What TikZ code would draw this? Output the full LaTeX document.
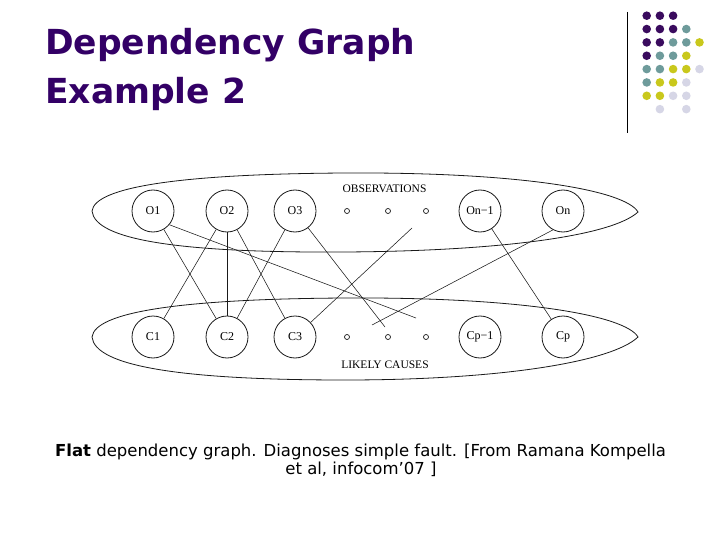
\documentclass[tikz,border=0pt]{standalone}
\usepackage{fontspec}
\setmainfont{Liberation Serif}
\newfontfamily\tahomalike{DejaVu Sans}
\definecolor{ttl}{HTML}{330066}
\definecolor{dpur}{HTML}{3A0B5E}
\definecolor{dteal}{HTML}{6E9B9B}
\definecolor{dyel}{HTML}{C9C81C}
\definecolor{dlav}{HTML}{D6D6E6}
\definecolor{ink}{HTML}{1A1A1A}
\tikzset{
  obs/.style={circle, draw=ink, line width=0.8pt, minimum size=42pt, inner sep=0pt, font=\fontsize{12}{14}\selectfont},
  tinydot/.style={circle, draw=ink, line width=0.7pt, minimum size=5pt, inner sep=0pt},
  edge/.style={draw=ink, line width=0.55pt},
  lens/.style={draw=ink, line width=0.8pt},
  grouplabel/.style={font=\fontsize{11.5}{13}\selectfont, inner sep=0pt, anchor=base},
  titletext/.style={font=\tahomalike\bfseries\fontsize{34.5}{40}\selectfont, text=ttl, inner sep=0pt, anchor=base west},
  captext/.style={font=\tahomalike\fontsize{16.5}{19}\selectfont, inner sep=0pt, anchor=base}
}
\begin{document}
\begin{tikzpicture}[x=1pt,y=-1pt]
\useasboundingbox (0,0) rectangle (720,540);
\fill[white] (0,0) rectangle (720,540);

% title
\node[titletext] (t1) at (45,55) {Dependency Graph};
\node[titletext] (t2) at (45,104) {Example 2};

% decoration: rule and dots
\draw[line width=1pt] (627,12) -- (627,133);
\foreach \c/\r/\col in {0/0/dpur,1/0/dpur,2/0/dpur,
  0/1/dpur,1/1/dpur,2/1/dpur,3/1/dteal,
  0/2/dpur,1/2/dpur,2/2/dteal,3/2/dteal,4/2/dyel,
  0/3/dpur,1/3/dteal,2/3/dteal,3/3/dyel,
  0/4/dteal,1/4/dteal,2/4/dyel,3/4/dyel,4/4/dlav,
  0/5/dteal,1/5/dyel,2/5/dyel,3/5/dlav,
  0/6/dyel,1/6/dyel,2/6/dlav,3/6/dlav,
  1/7/dlav,3/7/dlav}
  \fill[\col] ({646.7+13.2*\c},{15.7+13.35*\r}) circle (4.3);

% group outlines
\draw[lens] (92,211) .. controls (95,187) and (180,174) .. (345,173)
  .. controls (520,172) and (625,190) .. (638,212)
  .. controls (612,236) and (500,251) .. (345,252)
  .. controls (180,253) and (95,240) .. (92,211) -- cycle;
\draw[lens] (92,337) .. controls (95,312) and (180,299) .. (345,298)
  .. controls (520,297) and (625,315) .. (638,337)
  .. controls (612,362) and (500,380) .. (345,380)
  .. controls (180,380) and (95,366) .. (92,337) -- cycle;

\node[grouplabel] (obslabel) at (384.5,193) {OBSERVATIONS};
\node[grouplabel] (causelabel) at (385,368) {LIKELY CAUSES};

% observation nodes
\node[obs] (O1) at (153,211) {O1};
\node[obs] (O2) at (227,211) {O2};
\node[obs] (O3) at (295,211) {O3};
\node[tinydot] (ou1) at (347,211) {};
\node[tinydot] (ou2) at (388,211) {};
\node[tinydot] (ou3) at (426,211) {};
\node[obs] (On1) at (480,211) {On−1};
\node[obs] (On) at (563,211) {On};

% cause nodes
\node[obs] (C1) at (153,337) {C1};
\node[obs] (C2) at (227,337) {C2};
\node[obs] (C3) at (295,337) {C3};
\node[tinydot] (cl1) at (347,337) {};
\node[tinydot] (cl2) at (388,337) {};
\node[tinydot] (cl3) at (426,337) {};
\node[obs] (Cp1) at (480,337) {Cp−1};
\node[obs] (Cp) at (563,337) {Cp};

% free ends
\coordinate (f1) at (416,318);
\coordinate (f2) at (385,327);
\coordinate (f3) at (412,228);
\coordinate (f4) at (372,325);

% edges
\draw[edge] (O1) -- (C2);
\draw[edge] (O1.-40) -- (f1);
\draw[edge] (O2) -- (C1);
\draw[edge] (O2) -- (C2);
\draw[edge] (O2) -- (C3);
\draw[edge] (O3) -- (C2);
\draw[edge] (O3) -- (f2);
\draw[edge] (C3) -- (f3);
\draw[edge] (On.-118) -- (f4);
\draw[edge] (On1) -- (Cp);

% caption
\node[captext] (cap1) at (360.5,456) {\textbf{Flat} dependency graph. Diagnoses simple fault. [From Ramana Kompella};
\node[captext] (cap2) at (361,474) {et al, infocom’07 ]};
\end{tikzpicture}
\end{document}
